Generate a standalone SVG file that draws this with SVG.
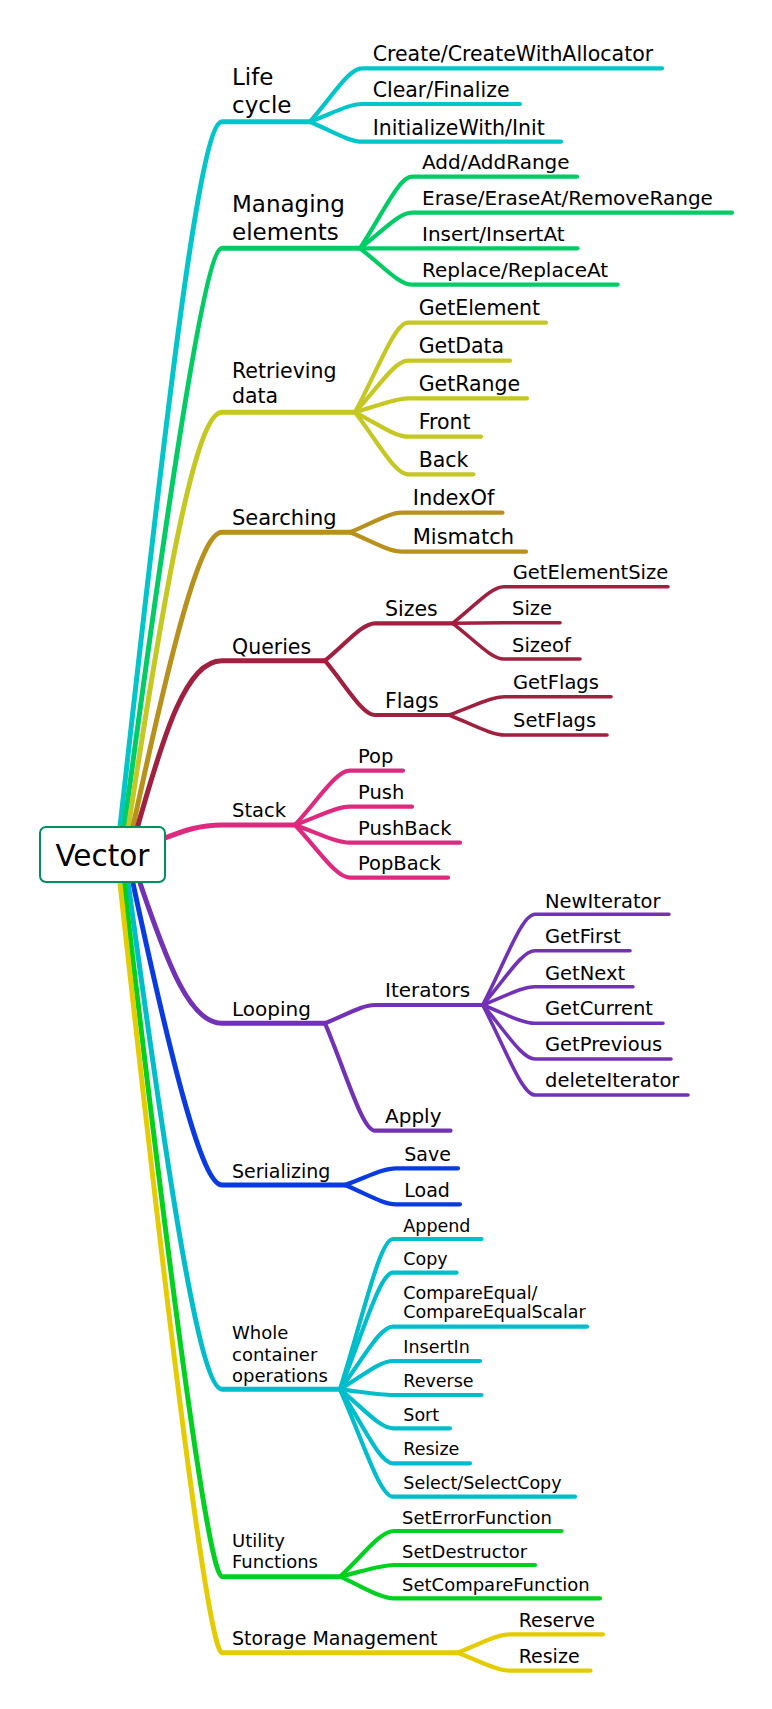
<svg xmlns="http://www.w3.org/2000/svg" width="772" height="1709" viewBox="0 0 772 1709">
<style>
text{font-family:"DejaVu Sans","Liberation Sans",sans-serif;fill:#000}
.a{fill:none;stroke-width:5;stroke-linecap:round;stroke-linejoin:round}
.b{fill:none;stroke-width:4.2;stroke-linecap:round;stroke-linejoin:round}
.c{fill:none;stroke-width:3.6;stroke-linecap:round;stroke-linejoin:round}
.lc{stroke:#00C5C9}.me{stroke:#00CC66}.rd{stroke:#C5C823}.se{stroke:#B8901C}
.qu{stroke:#A0203F}.st{stroke:#DE2A7E}.lo{stroke:#7232B5}.sr{stroke:#0A3BE0}
.wc{stroke:#00BDCB}.uf{stroke:#00D020}.sm{stroke:#E5CC00}
.f23{font-size:23px}.f21{font-size:21px}.f20{font-size:20.5px}.f19{font-size:19.5px}.f18{font-size:18px}.f17{font-size:17.5px}
</style>
<g id="connectors">
<path class="a lc" d="M119 836 C167 404 200 121.7 222 121.7 H310"/>
<path class="a me" d="M123 836 C170.3 480 206 248.3 222 248.3 H360"/>
<path class="a rd" d="M127 836 C166 578.6 196 412.3 222 412.3 H355"/>
<path class="a se" d="M131 836 C170.6 650.6 200 532.3 222 532.3 H350"/>
<path class="a qu" d="M135 836 C165 728 187 660.7 222 660.7 H325"/>
<path class="a st" d="M160 840 C185 830 200 825 222 825 H295"/>
<path class="a lo" d="M137 874 C167.8 966 190 1023.3 222 1023.3 H325"/>
<path class="a sr" d="M131 874 C171.7 1064 202 1185 222 1185 H345"/>
<path class="a wc" d="M127 874 C168.8 1186 200 1389.3 222 1389.3 H340"/>
<path class="a uf" d="M123 874 C172 1299 209 1576.7 222 1576.7 H340"/>
<path class="a sm" d="M119 874 C170 1344 209 1652.7 222 1652.7 H457.7"/>

<path class="b lc" d="M310 121.7 C333.4 95 349 68.3 362 68.3 H662"/>
<path class="b lc" d="M310 121.7 C333.4 112.9 349 104 362 104 H520"/>
<path class="b lc" d="M310 121.7 C333.4 131.7 349 141.7 362 141.7 H561"/>

<path class="b me" d="M360 248.3 C383.4 212.5 399 176.7 412 176.7 H577"/>
<path class="b me" d="M360 248.3 C383.4 230.5 399 212.7 412 212.7 H732"/>
<path class="b me" d="M360 248.3 H577.5"/>
<path class="b me" d="M360 248.3 C383.4 266.5 399 284.7 412 284.7 H617.5"/>

<path class="b rd" d="M355 412.3 C378.9 367.5 394.75 322.7 408 322.7 H546"/>
<path class="b rd" d="M355 412.3 C378.9 386.5 394.75 360.7 408 360.7 H510"/>
<path class="b rd" d="M355 412.3 C378.9 405.3 394.75 398.3 408 398.3 H527"/>
<path class="b rd" d="M355 412.3 C378.9 424.5 394.75 436.7 408 436.7 H481"/>
<path class="b rd" d="M355 412.3 C378.9 443.3 394.75 474.3 408 474.3 H473.5"/>

<path class="b se" d="M350 532.3 C373.4 522.5 389 512.7 402 512.7 H502.5"/>
<path class="b se" d="M350 532.3 C373.4 542 389 551.7 402 551.7 H526"/>

<path class="b qu" d="M325 660.7 C347.5 642 362.5 623.3 375 623.3 H452.7"/>
<path class="b qu" d="M325 660.7 C347.5 687.85 362.5 715 375 715 H449"/>
<path class="c qu" d="M452.7 623.3 C475.8 605 491.2 586.7 504 586.7 H668"/>
<path class="c qu" d="M452.7 623.3 C475.8 623 491.2 622.7 504 622.7 H560"/>
<path class="c qu" d="M452.7 623.3 C475.8 641.15 491.2 659 504 659 H580"/>
<path class="c qu" d="M449 715 C474.2 705.85 491 696.7 505 696.7 H611"/>
<path class="c qu" d="M449 715 C474.2 725 491 735 505 735 H607"/>

<path class="b st" d="M295 825 C319.75 797.85 336.25 770.7 350 770.7 H403"/>
<path class="b st" d="M295 825 C319.75 815.85 336.25 806.7 350 806.7 H412"/>
<path class="b st" d="M295 825 C319.75 833.85 336.25 842.7 350 842.7 H460"/>
<path class="b st" d="M295 825 C319.75 851.35 336.25 877.7 350 877.7 H448"/>

<path class="b lo" d="M325 1023.3 C347.5 1014.15 362.5 1005 375 1005 H482.7"/>
<path class="b lo" d="M325 1023.3 C347.5 1077 362.5 1130.7 375 1130.7 H450.5"/>
<path class="c lo" d="M482.7 1005 C506.2 959.65 521.9 914.3 535 914.3 H669"/>
<path class="c lo" d="M482.7 1005 C506.2 977.85 521.9 950.7 535 950.7 H630"/>
<path class="c lo" d="M482.7 1005 C506.2 995.85 521.9 986.7 535 986.7 H633"/>
<path class="c lo" d="M482.7 1005 C506.2 1014.15 521.9 1023.3 535 1023.3 H663"/>
<path class="c lo" d="M482.7 1005 C506.2 1032 521.9 1059 535 1059 H671"/>
<path class="c lo" d="M482.7 1005 C506.2 1050 521.9 1095 535 1095 H688"/>

<path class="b sr" d="M345 1185 C368 1176.65 383.25 1168.3 396 1168.3 H458"/>
<path class="b sr" d="M345 1185 C368 1194.65 383.25 1204.3 396 1204.3 H460"/>

<path class="b wc" d="M340 1389.3 C363.85 1314.15 379.75 1239 393 1239 H481.5"/>
<path class="b wc" d="M340 1389.3 C363.85 1331 379.75 1272.7 393 1272.7 H456.5"/>
<path class="b wc" d="M340 1389.3 C363.85 1358 379.75 1326.7 393 1326.7 H587"/>
<path class="b wc" d="M340 1389.3 C363.85 1375.15 379.75 1361 393 1361 H480"/>
<path class="b wc" d="M340 1389.3 C363.85 1392.15 379.75 1395 393 1395 H481.5"/>
<path class="b wc" d="M340 1389.3 C363.85 1408.8 379.75 1428.3 393 1428.3 H450"/>
<path class="b wc" d="M340 1389.3 C363.85 1426.3 379.75 1463.3 393 1463.3 H470"/>
<path class="b wc" d="M340 1389.3 C363.85 1443 379.75 1496.7 393 1496.7 H575"/>

<path class="b uf" d="M340 1576.7 C364.3 1553.85 380.5 1531 394 1531 H561.5"/>
<path class="b uf" d="M340 1576.7 C364.3 1570.85 380.5 1565 394 1565 H535"/>
<path class="b uf" d="M340 1576.7 C364.3 1587.5 380.5 1598.3 394 1598.3 H600"/>

<path class="b sm" d="M457.7 1652.7 C481.2 1643.5 496.9 1634.3 510 1634.3 H603"/>
<path class="b sm" d="M457.7 1652.7 C481.2 1661.7 496.9 1670.7 510 1670.7 H590.5"/>
</g>

<g id="root">
<rect x="40" y="827" width="125" height="55" rx="6" fill="#fff" stroke="#00905C" stroke-width="2"/>
<text x="102.5" y="866" font-size="29.5" text-anchor="middle">Vector</text>
</g>

<g id="life-cycle">
<text class="f23" x="232" y="85">Life</text>
<text class="f23" x="232" y="113">cycle</text>
</g>
<g id="create"><text class="f20" x="372.7" y="61">Create/CreateWithAllocator</text></g>
<g id="clear"><text class="f20" x="372.7" y="97">Clear/Finalize</text></g>
<g id="init"><text class="f20" x="372.7" y="134.5">InitializeWith/Init</text></g>

<g id="managing">
<text class="f23" x="232" y="211.7">Managing</text>
<text class="f23" x="232" y="240">elements</text>
</g>
<g id="add"><text x="422" y="169" font-size="20">Add/AddRange</text></g>
<g id="erase"><text x="422" y="205" font-size="20">Erase/EraseAt/RemoveRange</text></g>
<g id="insert"><text x="422" y="241" font-size="20">Insert/InsertAt</text></g>
<g id="replace"><text x="422" y="277" font-size="20">Replace/ReplaceAt</text></g>

<g id="retrieving">
<text class="f20" x="232" y="378.3">Retrieving</text>
<text class="f20" x="232" y="403.3">data</text>
</g>
<g id="getelement"><text class="f20" x="418.7" y="315">GetElement</text></g>
<g id="getdata"><text class="f20" x="418.7" y="353">GetData</text></g>
<g id="getrange"><text class="f20" x="418.7" y="390.5">GetRange</text></g>
<g id="front"><text class="f20" x="418.7" y="429">Front</text></g>
<g id="back"><text class="f20" x="418.7" y="466.5">Back</text></g>

<g id="searching"><text class="f21" x="232" y="525">Searching</text></g>
<g id="indexof"><text class="f21" x="412.7" y="505">IndexOf</text></g>
<g id="mismatch"><text class="f21" x="412.7" y="544">Mismatch</text></g>

<g id="queries"><text class="f20" x="232" y="654">Queries</text></g>
<g id="sizes"><text class="f20" x="385" y="616">Sizes</text></g>
<g id="getelementsize"><text class="f19" x="512.7" y="579">GetElementSize</text></g>
<g id="size"><text class="f19" x="512" y="615">Size</text></g>
<g id="sizeof"><text class="f19" x="512" y="651.5">Sizeof</text></g>
<g id="flags"><text class="f20" x="385" y="707.7">Flags</text></g>
<g id="getflags"><text class="f19" x="513" y="688.5">GetFlags</text></g>
<g id="setflags"><text class="f19" x="513" y="726.7">SetFlags</text></g>

<g id="stack"><text class="f19" x="232" y="817.3">Stack</text></g>
<g id="pop"><text class="f19" x="358" y="763.3">Pop</text></g>
<g id="push"><text class="f19" x="358" y="799">Push</text></g>
<g id="pushback"><text class="f19" x="358" y="835">PushBack</text></g>
<g id="popback"><text class="f19" x="358" y="870">PopBack</text></g>

<g id="looping"><text x="232" y="1016" font-size="20">Looping</text></g>
<g id="iterators"><text x="385" y="997.3" font-size="20">Iterators</text></g>
<g id="apply"><text x="385" y="1123.3" font-size="20">Apply</text></g>
<g id="newiterator"><text class="f19" x="545" y="907.5">NewIterator</text></g>
<g id="getfirst"><text class="f19" x="545" y="943.3">GetFirst</text></g>
<g id="getnext"><text class="f19" x="545" y="979.7">GetNext</text></g>
<g id="getcurrent"><text class="f19" x="545" y="1015.3">GetCurrent</text></g>
<g id="getprevious"><text class="f19" x="545" y="1051">GetPrevious</text></g>
<g id="deleteiterator"><text class="f19" x="545" y="1087">deleteIterator</text></g>

<g id="serializing"><text x="232" y="1177.5" font-size="19">Serializing</text></g>
<g id="save"><text x="404.3" y="1160.5" font-size="19">Save</text></g>
<g id="load"><text x="404.3" y="1197.3" font-size="19">Load</text></g>

<g id="whole">
<text class="f18" x="232" y="1339">Whole</text>
<text class="f18" x="232" y="1361">container</text>
<text class="f18" x="232" y="1382.3">operations</text>
</g>
<g id="append"><text class="f17" x="403.3" y="1231.7">Append</text></g>
<g id="copy"><text class="f17" x="403.3" y="1265">Copy</text></g>
<g id="compareequal">
<text class="f17" x="403.3" y="1299.3">CompareEqual/</text>
<text class="f17" x="403.3" y="1318.3">CompareEqualScalar</text>
</g>
<g id="insertin"><text class="f17" x="403.3" y="1353.3">InsertIn</text></g>
<g id="reverse"><text class="f17" x="403.3" y="1387.3">Reverse</text></g>
<g id="sort"><text class="f17" x="403.3" y="1421">Sort</text></g>
<g id="resize-wc"><text class="f17" x="403.3" y="1455">Resize</text></g>
<g id="select"><text class="f17" x="403.3" y="1489.3">Select/SelectCopy</text></g>

<g id="utility">
<text class="f18" x="232" y="1547.3">Utility</text>
<text class="f18" x="232" y="1568.3">Functions</text>
</g>
<g id="seterrorfunction"><text class="f18" x="402" y="1523.5">SetErrorFunction</text></g>
<g id="setdestructor"><text class="f18" x="402" y="1557.7">SetDestructor</text></g>
<g id="setcomparefunction"><text class="f18" x="402" y="1591">SetCompareFunction</text></g>

<g id="storage"><text x="232" y="1645" font-size="19">Storage Management</text></g>
<g id="reserve"><text x="518.7" y="1626.7" font-size="19">Reserve</text></g>
<g id="resize-sm"><text x="518.7" y="1662.7" font-size="19">Resize</text></g>
</svg>
